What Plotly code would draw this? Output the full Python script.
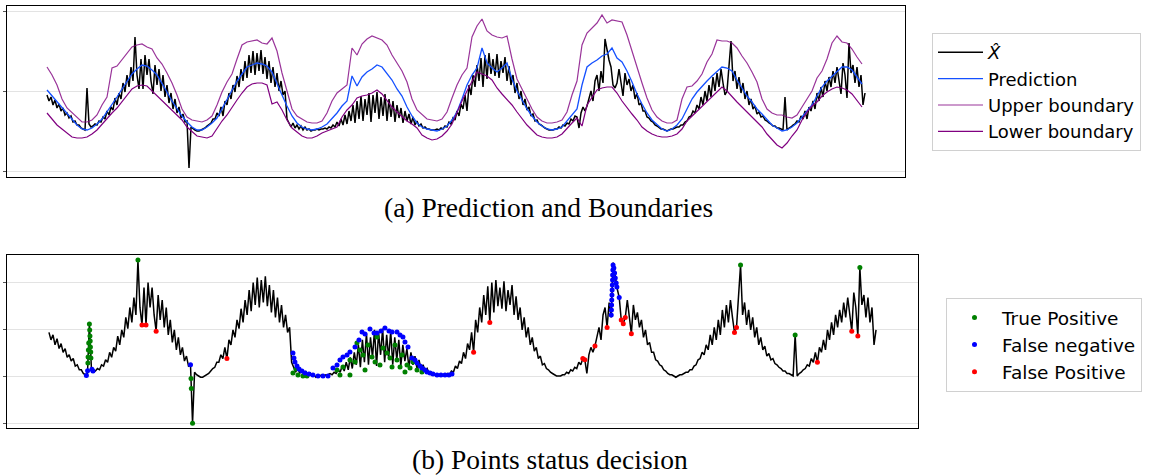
import plotly.graph_objects as go

# ---------------- data ----------------
# X-hat sampled every 2 time steps
xhat = [
    76, 70, 74, 66, 71, 63, 67, 60, 63, 56, 58, 53, 55, 49, 50, 46, 46, 43, 42, 41,
    83, 47, 44,
    45, 47, 46, 50, 49, 54, 52, 60, 56, 64, 61, 73, 66, 78, 72, 88, 79, 96, 84, 104,
    90, 134, 96, 82, 112, 82, 116, 96, 112, 90, 77, 106, 86, 102, 80, 96, 74, 86, 68,
    78, 62, 72, 58, 64, 53, 57, 49, 50, 3, 44, 42, 41, 40,
    40, 41, 42, 43, 45, 47, 48, 52, 52, 58, 55, 64, 55, 70, 66, 78, 72, 86, 79, 95,
    84, 102, 90, 110, 93, 116, 98, 120, 96, 118, 100, 121, 97, 114, 92, 110, 88, 104,
    84, 98, 80, 90, 76, 80, 52, 48, 44, 48, 43, 46, 42, 45, 41, 44, 41, 42, 40,
    41, 41, 42, 41, 42, 42, 43, 42, 44, 43, 46, 44, 49, 45, 52, 46, 56, 47, 60, 50,
    66, 48, 70, 52, 75, 50, 72, 56, 78, 49, 76, 58, 79, 52, 74, 55, 77, 50, 72, 54,
    70, 49, 66, 53, 63, 48, 60, 50, 57, 47, 54, 46, 50, 45, 47, 43, 44, 42, 42, 41,
    41, 41,
    42, 41, 43, 42, 45, 44, 49, 47, 53, 51, 60, 55, 67, 62, 76, 60, 86, 76, 96, 84,
    106, 90, 113, 84, 116, 92, 118, 97, 112, 95, 117, 93, 110, 98, 114, 90, 105, 86,
    96, 78, 88, 72, 80, 66, 72, 61, 64, 55, 57, 50, 51, 47, 46, 44, 43, 42, 41, 41,
    41, 42, 42, 44, 43, 46, 45, 48, 47, 52, 50, 55, 54, 43, 58, 64, 60, 65, 72, 80,
    70, 90, 96, 80, 100, 88, 132, 120, 111, 104, 86, 83, 88, 102, 88, 75, 98, 86, 92,
    80, 86, 72, 78, 66, 68, 60, 60, 54, 53, 50, 49, 46, 45, 43, 42, 42, 41, 40,
    41, 42, 42, 43, 44, 44, 46, 46, 49, 50, 54, 55, 60, 58, 66, 62, 74, 66, 80, 70,
    86, 74, 94, 80, 98, 84, 102, 88, 76, 80, 104, 130, 90, 100, 82, 94, 78, 88, 72, 80,
    66, 72, 62, 65, 57, 59, 54, 55, 51, 50, 48, 47, 45, 45, 43, 43, 42, 41,
    74, 41, 43, 44, 46, 47, 50, 49, 55, 52, 60, 52, 64, 60, 70, 62, 78, 70, 84, 74,
    90, 80, 94, 84, 100, 88, 104, 92, 77, 108, 96, 73, 128, 98, 106, 88, 104, 84, 96,
    66, 78,
]

# prediction / boundaries sampled every 5 time steps
prediction = [
    81, 75, 69, 63, 57, 51, 46, 42, 41, 43, 47, 52, 59, 66, 74, 82, 90, 97, 102, 106,
    105, 101, 96, 88, 79, 70, 62, 55, 49, 44, 41, 41, 44, 48, 53, 62, 71, 81, 90, 97,
    104, 106, 108, 107, 105, 99, 87, 76, 65, 55, 48, 44, 42, 41, 42, 44, 47, 52, 58, 65,
    70, 95, 85, 94, 99, 102, 106, 104, 98, 91, 82, 75, 64, 55, 48, 44, 42, 41, 40, 42,
    45, 51, 59, 72, 86, 96, 103, 123, 108, 103, 99, 103, 108, 92, 80, 71, 62, 55, 49, 45,
    42, 41, 42, 44, 50, 57, 62, 86, 104, 108, 111, 115, 117, 123, 113, 109, 100, 89, 77, 67,
    58, 51, 46, 42, 40, 42, 46, 52, 62, 72, 79, 85, 90, 95, 100, 104, 103, 100, 91, 83,
    75, 69, 62, 57, 51, 46, 43, 40, 41, 44, 48, 54, 59, 66, 75, 84, 90, 95, 99, 104,
    104, 101, 94, 87,
]
upper = [
    104, 96, 86, 72, 63, 58, 53, 49, 49, 51, 56, 66, 74, 103, 105, 111, 118, 124, 126, 127,
    124, 122, 113, 107, 98, 88, 76, 62, 54, 51, 50, 49, 51, 55, 66, 79, 89, 97, 112, 126,
    129, 130, 131, 128, 127, 133, 120, 98, 79, 62, 55, 52, 49, 48, 48, 50, 58, 70, 78, 82,
    86, 123, 116, 127, 132, 135, 133, 131, 126, 116, 108, 100, 89, 72, 61, 56, 52, 51, 50, 52,
    59, 73, 86, 96, 103, 134, 145, 152, 140, 136, 134, 133, 135, 112, 92, 82, 72, 62, 54, 50,
    48, 48, 49, 51, 59, 76, 90, 126, 138, 143, 148, 156, 148, 151, 150, 149, 136, 121, 104, 88,
    73, 61, 54, 50, 48, 48, 51, 72, 84, 85, 90, 97, 109, 117, 131, 130, 130, 128, 123, 115,
    108, 99, 89, 72, 62, 58, 56, 56, 54, 53, 56, 64, 72, 80, 93, 100, 112, 128, 135, 129,
    128, 122, 114, 107,
]
lower = [
    58, 52, 46, 42, 38, 34, 33, 33, 34, 37, 41, 47, 53, 58, 63, 69, 76, 82, 85, 86,
    85, 80, 76, 71, 66, 60, 56, 51, 44, 39, 35, 34, 33, 35, 43, 50, 56, 64, 71, 78,
    84, 87, 88, 88, 86, 67, 69, 61, 51, 43, 39, 35, 33, 33, 35, 38, 40, 42, 44, 54,
    61, 66, 73, 75, 76, 78, 81, 77, 70, 64, 59, 54, 50, 47, 43, 36, 33, 31, 32, 35,
    40, 47, 59, 70, 80, 90, 99, 97, 95, 91, 83, 77, 72, 66, 59, 52, 46, 41, 36, 34,
    33, 33, 34, 37, 43, 48, 53, 45, 66, 74, 81, 83, 84, 84, 78, 70, 63, 57, 51, 44,
    40, 37, 35, 34, 34, 35, 37, 42, 50, 55, 59, 65, 70, 75, 79, 84, 80, 74, 69, 64,
    59, 54, 48, 44, 37, 31, 26, 23, 28, 35, 41, 51, 59, 65, 69, 75, 79, 82, 84, 83,
    81, 77, 70, 64,
]

# point status (time step, value)
tp_t = [38.5, 38.7, 39.0, 39.3, 40.0, 40.3, 40.55, 40.8, 41.0, 41.3, 41.5, 88, 140.5, 140.8, 142,
        241.3, 244.3, 246.3, 251.2, 255.2, 284.9, 287.8, 290.8, 297.7, 297.7, 302.7, 304.6,
        307.6, 310.6, 312.6, 315.5, 319.5, 322.5, 324.4, 327.4, 330.4, 334.3, 337.3, 339.3,
        342.2, 344.2, 347.2, 349.2, 352.1, 354.1, 357.1, 360.0, 364.0, 368.9, 684, 738, 802]
tp_v = [51.4, 56.2, 61.9, 67.5, 82.7, 77.9, 73.1, 69.1, 64.3, 60.3, 55.4, 134, 39, 31, 3,
        43.4, 46.6, 41.8, 41.0, 41.0, 45.8, 41.8, 48.2, 53.8, 41.8, 52.2, 67.5,
        61.9, 57.9, 45.8, 65.9, 56.2, 52.2, 72.3, 49.8, 63.5, 59.5, 55.4, 48.2,
        65.9, 53.8, 48.2, 57.9, 44.2, 49.8, 47.4, 52.2, 45.8, 44.2, 130, 74, 128]

fn_t = [37.0, 38.2, 42.5, 43.5, 140,
        241.3, 242.3, 243.3, 245.3, 247.3, 250.2, 253.2, 257.2, 261.1, 266.1, 271.0, 276.0,
        280.9, 284.9, 287.8, 290.8, 294.8, 297.7, 302.7, 306.6, 309.6, 312.6, 317.5, 321.5,
        324.4, 328.4, 332.3, 336.3, 339.3, 344.2, 347.2, 350.1, 352.1, 355.1, 359.0, 362.0,
        364.0, 367.0, 368.9, 371.9, 373.9, 376.9, 379.8, 383.8, 387.7, 391.7, 395.6, 398.6,
        556.1, 556.3, 556.45, 556.6, 556.8, 557.0, 557.2, 557.4, 557.5, 557.7, 557.9,
        558.7, 559.4, 560.1, 561.0, 561.7, 564.0]
fn_v = [41.5, 45.2, 46.5, 45.0, 50,
        59.5, 55.4, 52.2, 49.0, 46.6, 45.0, 43.4, 42.6, 41.8, 41.0, 41.0, 41.0,
        47.4, 49.8, 53.8, 56.2, 57.9, 60.3, 64.3, 69.9, 76.3, 74.7, 78.7, 75.5,
        75.5, 77.1, 79.5, 77.1, 76.3, 76.3, 73.9, 72.3, 68.3, 64.3, 55.4, 53.8,
        51.4, 49.0, 47.4, 45.8, 44.2, 43.4, 42.6, 41.8, 41.8, 41.8, 41.8, 42.6,
        90, 94, 98, 102, 106, 110, 114, 118, 122, 126, 130,
        127.7, 123.7, 119.7, 115.6, 112.4, 104]

fp_t = [92, 96, 106, 176, 420, 436, 528, 530, 540, 552, 566, 568, 570, 576, 678, 680, 760, 794, 800]
fp_v = [82, 82, 77, 55, 60, 84, 55, 54, 65, 80, 86, 83, 88, 75, 76, 80, 52, 77, 73]

XHAT_STEP = 2
BOUND_STEP = 5
t_xhat = [i * XHAT_STEP for i in range(len(xhat))]
t_bound = [i * BOUND_STEP for i in range(len(prediction))]

W, H = 1157, 475

fig = go.Figure()

# ---- panel (a)
fig.add_trace(go.Scatter(x=t_xhat, y=xhat, mode="lines", name="<i>X̂</i>",
                         line=dict(color="black", width=1.5), xaxis="x", yaxis="y",
                         legend="legend", legendgroup="a1"))
fig.add_trace(go.Scatter(x=t_bound, y=prediction, mode="lines", name="Prediction",
                         line=dict(color="rgb(20,80,255)", width=1.3),
                         xaxis="x", yaxis="y", legend="legend", legendgroup="a2"))
fig.add_trace(go.Scatter(x=t_bound, y=upper, mode="lines", name="Upper boundary",
                         line=dict(color="rgba(128,0,128,0.8)", width=1.2),
                         xaxis="x", yaxis="y", legend="legend", legendgroup="a3"))
fig.add_trace(go.Scatter(x=t_bound, y=lower, mode="lines", name="Lower boundary",
                         line=dict(color="rgb(128,0,128)", width=1.2),
                         xaxis="x", yaxis="y", legend="legend", legendgroup="a4"))

# ---- panel (b)
fig.add_trace(go.Scatter(x=t_xhat, y=xhat, mode="lines", showlegend=False,
                         line=dict(color="black", width=1.5), xaxis="x2", yaxis="y2"))
fig.add_trace(go.Scatter(x=tp_t, y=tp_v, mode="markers", name="True Positive",
                         marker=dict(color="green", size=5), xaxis="x2", yaxis="y2",
                         legend="legend2", legendgroup="b1"))
fig.add_trace(go.Scatter(x=fn_t, y=fn_v, mode="markers", name="False negative",
                         marker=dict(color="blue", size=5), xaxis="x2", yaxis="y2",
                         legend="legend2", legendgroup="b2"))
fig.add_trace(go.Scatter(x=fp_t, y=fp_v, mode="markers", name="False Positive",
                         marker=dict(color="red", size=5), xaxis="x2", yaxis="y2",
                         legend="legend2", legendgroup="b3"))

axis_common = dict(showline=True, mirror=True, linecolor="black", linewidth=1,
                   zeroline=False, showticklabels=False, automargin=False)

fig.update_layout(
    width=W, height=H,
    margin=dict(l=0, r=0, t=0, b=0, pad=0),
    paper_bgcolor="white", plot_bgcolor="white",
    xaxis=dict(domain=[7 / W, 905 / W], range=[-40, 858], anchor="y",
               showgrid=False, ticks="", **axis_common),
    yaxis=dict(domain=[1 - 177 / H, 1 - 6 / H], range=[-6, 165], anchor="x",
               tickvals=[0, 80, 160], showgrid=True, gridcolor="#e3e3e3", gridwidth=1,
               ticks="outside", ticklen=3, tickcolor="#555", **axis_common),
    xaxis2=dict(domain=[7 / W, 918 / W], range=[-41.5, 859.5], anchor="y2",
                showgrid=False, ticks="", **axis_common),
    yaxis2=dict(domain=[1 - 428 / H, 1 - 255 / H], range=[-0.73, 138.1], anchor="x2",
                tickvals=[2.5, 41, 78.7, 116.4], showgrid=True, gridcolor="#e3e3e3", gridwidth=1,
                ticks="outside", ticklen=3, tickcolor="#555", **axis_common),
    legend=dict(x=932 / W, y=1 - 33 / H, xanchor="left", yanchor="top",
                bgcolor="white", bordercolor="#d0d0d0", borderwidth=1,
                font=dict(family="DejaVu Sans", size=18, color="black"),
                traceorder="grouped", tracegroupgap=0, itemwidth=45),
    legend2=dict(x=946 / W, y=1 - 298 / H, xanchor="left", yanchor="top",
                 bgcolor="white", bordercolor="#d0d0d0", borderwidth=1,
                 font=dict(family="DejaVu Sans", size=18.5, color="black"),
                 traceorder="grouped", tracegroupgap=0, itemwidth=45),
    annotations=[
        dict(text="(a) Prediction and Boundaries", x=548 / W, y=1 - 207 / H,
             xref="paper", yref="paper", xanchor="center", yanchor="middle", showarrow=False,
             font=dict(family="Liberation Serif", size=27.5, color="black")),
        dict(text="(b) Points status decision", x=550 / W, y=1 - 459 / H,
             xref="paper", yref="paper", xanchor="center", yanchor="middle", showarrow=False,
             font=dict(family="Liberation Serif", size=27.5, color="black")),
    ],
)

fig.write_html("out.html", config={"displayModeBar": False},
               post_script="document.body.style.margin='0px';document.body.style.padding='0px';")
